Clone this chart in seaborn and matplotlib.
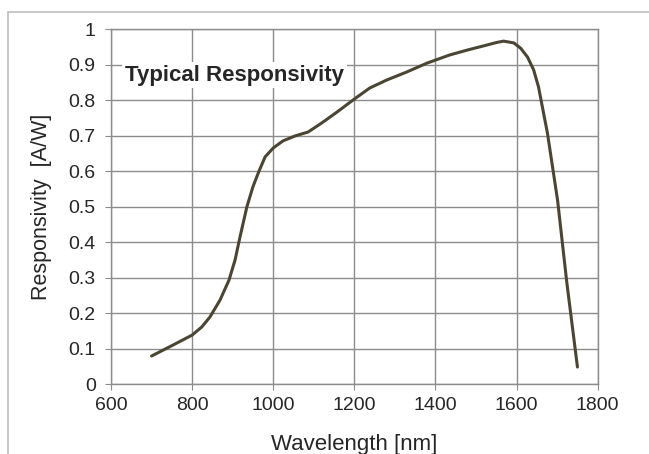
import pandas as pd
import matplotlib.pyplot as plt
import seaborn as sns
from matplotlib.patches import Rectangle

# wavelength [nm] and responsivity [A/W]
wavelength = [700, 753, 800, 824, 844, 869, 891, 906, 918, 935, 950, 965,
              980, 1000, 1024, 1054, 1086, 1119, 1157, 1199, 1238, 1279,
              1329, 1379, 1435, 1479, 1520, 1550, 1568, 1593, 1610, 1627,
              1642, 1654, 1676, 1701, 1724, 1750]
responsivity = [0.079, 0.110, 0.138, 0.161, 0.189, 0.237, 0.293, 0.350, 0.414,
                0.499, 0.556, 0.600, 0.640, 0.665, 0.685, 0.699, 0.710, 0.735,
                0.766, 0.802, 0.834, 0.856, 0.879, 0.904, 0.927, 0.941, 0.953,
                0.962, 0.966, 0.961, 0.946, 0.921, 0.885, 0.837, 0.707, 0.518,
                0.284, 0.048]

x_ticks = [600, 800, 1000, 1200, 1400, 1600, 1800]
y_ticks = [0, 0.1, 0.2, 0.3, 0.4, 0.5, 0.6, 0.7, 0.8, 0.9, 1]
y_tick_labels = ["0", "0.1", "0.2", "0.3", "0.4", "0.5", "0.6", "0.7", "0.8", "0.9", "1"]

df = pd.DataFrame({"Wavelength": wavelength, "Responsivity": responsivity})

sns.set_style("white")
plt.rcParams['font.family'] = ['Liberation Sans', 'DejaVu Sans']

fig = plt.figure(figsize=(6.49, 4.54), dpi=100)
ax = fig.add_axes([0.171, 0.154, 0.750, 0.782])

# outer chart frame (cut off at right/bottom in the reference)
fig.patches.append(Rectangle((8 / 649, -0.1), 1.2, 1 - 12 / 454 + 0.1,
                             transform=fig.transFigure, fill=False,
                             edgecolor='#bdbdbd', linewidth=1.2))

sns.lineplot(data=df, x="Wavelength", y="Responsivity", ax=ax,
             color='#4b4633', linewidth=2.2)

ax.set_xlim(600, 1800)
ax.set_ylim(0, 1)
ax.set_xticks(x_ticks)
ax.set_yticks(y_ticks)
ax.set_yticklabels(y_tick_labels)
ax.grid(True, color='#8c8c8c', linewidth=1)
ax.set_axisbelow(True)
for s in ax.spines.values():
    s.set_color('#8c8c8c')
    s.set_linewidth(1)
ax.tick_params(axis='both', which='both', length=4, color='#8c8c8c',
               labelsize=14, direction='out', left=True, bottom=True)
ax.tick_params(axis='x', pad=5)
ax.tick_params(axis='y', pad=7)

ax.set_xlabel("Wavelength [nm]", fontsize=16, labelpad=15)
ax.set_ylabel("Responsivity  [A/W]", fontsize=15.5, labelpad=12)

ax.text(0.029, 0.870, "Typical Responsivity", transform=ax.transAxes,
        fontsize=16, fontweight='bold', va='center', ha='left',
        bbox=dict(facecolor='white', edgecolor='none', pad=2))

fig.savefig("out.png", dpi=100)
